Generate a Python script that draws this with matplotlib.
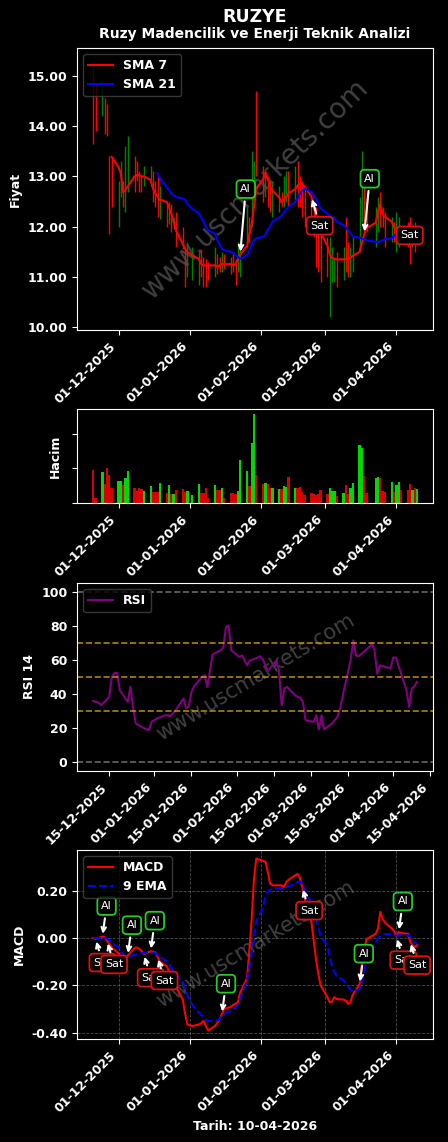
import numpy as np
import pandas as pd
import matplotlib
matplotlib.use('Agg')
import matplotlib.pyplot as plt
import matplotlib.dates as mdates
import matplotlib.ticker as ticker

plt.rcParams['font.family'] = 'DejaVu Sans'
plt.rcParams['font.size'] = 9
plt.rcParams['font.weight'] = 'bold'
plt.rcParams['axes.labelweight'] = 'bold'
plt.rcParams['text.color'] = 'white'
plt.rcParams['axes.labelcolor'] = 'white'
plt.rcParams['xtick.color'] = 'white'
plt.rcParams['ytick.color'] = 'white'
plt.rcParams['axes.edgecolor'] = 'white'
plt.rcParams['axes.facecolor'] = 'black'

# islem gunleri (1 Ocak ve 20 Mart tatil)
tarih = pd.bdate_range('2025-11-20', '2026-04-10', freq='C',
                       holidays=['2026-01-01', '2026-03-20'])

# 1 = yukselis (yesil), 0 = dusus (kirmizi)
yon = [0, 0, 1, 0, 0, 0, 0,
       1, 1, 0, 1, 1, 0, 0, 0, 0, 1, 1, 0, 0, 0, 1, 0, 1, 0, 1, 0, 0, 0, 1,
       1, 1, 0, 0, 0, 0, 1, 0, 0, 1, 0, 0, 0, 0, 1, 1, 1, 0, 1, 1, 0,
       0, 1, 0, 0, 1, 1, 0, 1, 1, 0, 1, 0, 0, 0, 0, 0, 0, 0, 0, 0,
       0, 1, 1, 1, 0, 1, 0, 0, 1, 1, 1, 1, 0, 0, 1, 1, 0, 0, 0, 1, 0,
       1, 1, 0, 0, 0, 1, 0, 1]

yuksek = [15.30, 14.85, 14.90, 14.55, 14.45, 13.40, 13.35,
          12.90, 13.30, 12.90, 13.60, 13.80, 13.40, 13.30, 13.10, 13.00, 13.20, 13.20, 13.10,
          12.90, 13.00, 12.80, 12.45, 12.50, 12.45, 12.20, 12.30, 12.00, 11.55, 11.70,
          11.60, 11.50, 11.55, 11.40, 11.35, 11.30, 11.60, 11.45, 11.40, 11.50, 11.45,
          11.40, 11.50, 11.35, 11.70, 11.60, 12.40, 12.20, 13.50, 13.30, 14.70,
          13.20, 13.10, 13.00, 12.90, 12.90, 12.80, 12.70, 13.00, 13.10, 13.10,
          13.20, 13.30, 13.00, 12.90, 12.80, 12.60, 12.50, 12.40, 12.00, 11.90,
          11.80, 11.80, 11.60, 11.40, 11.50, 11.60, 12.20, 11.70, 11.60, 11.80,
          12.60, 13.50, 12.90, 12.60, 12.40, 12.60, 12.70, 12.40, 12.30, 12.20, 12.10,
          12.30, 12.20, 12.00, 12.10, 12.20, 12.00, 12.10, 12.00]

dusuk = [13.65, 13.90, 14.20, 13.85, 13.80, 11.85, 12.40,
         12.00, 12.60, 12.40, 12.30, 12.70, 12.70, 12.90, 12.70, 12.70, 12.80, 12.80, 12.50,
         12.40, 12.20, 12.15, 12.00, 12.05, 11.90, 11.95, 11.60, 11.55, 10.80, 11.00,
         10.95, 10.85, 11.00, 10.80, 10.80, 10.95, 11.00, 11.05, 11.10, 11.10, 11.15,
         11.05, 11.10, 10.85, 11.10, 11.00, 11.60, 11.70, 12.00, 12.40, 13.00,
         12.50, 12.60, 12.40, 12.30, 12.20, 12.30, 12.40, 12.40, 12.50, 12.40,
         12.50, 12.40, 12.40, 12.20, 12.00, 11.90, 11.80, 11.20, 11.10, 10.90,
         11.00, 10.20, 10.90, 10.90, 10.80, 10.95, 11.10, 11.00, 11.00, 11.10,
         11.50, 12.10, 11.90, 11.90, 11.60, 11.90, 12.00, 12.00, 11.60, 11.70, 11.70,
         11.50, 11.60, 11.70, 11.60, 11.25, 11.60, 11.50, 11.70]

nan = np.nan
sma7 = [nan] * 6 + [13.39,
        13.19, 13.06, 12.69, 12.73, 12.80, 13.00, 13.03, 13.03, 13.00, 13.00, 12.93, 12.76,
        12.66, 12.60, 12.54, 12.49, 12.39, 12.26, 12.10, 11.93, 11.66, 11.56, 11.50,
        11.43, 11.36, 11.26, 11.23, 11.23, 11.23, 11.23, 11.20, 11.23, 11.26, 11.25,
        11.26, 11.23, 11.26, 11.35, 11.45, 11.62, 11.85, 12.05, 12.40, 12.75,
        12.95, 13.08, 12.95, 12.82, 12.72, 12.58, 12.48, 12.52, 12.60, 12.66,
        12.75, 12.82, 12.86, 12.85, 12.80, 12.60, 12.40, 12.22, 12.05, 11.88,
        11.62, 11.45, 11.38, 11.36, 11.35, 11.35, 11.35, 11.36, 11.38, 11.42,
        11.50, 11.68, 11.85, 11.97, 12.08, 12.30, 12.45, 12.25, 12.20, 12.10, 12.00,
        11.90, 11.80, 11.76, 11.74, 11.72, 11.70, 11.72, 11.74]

sma21 = [nan] * 20 + [13.06, 12.96, 12.79, 12.72, 12.66, 12.62, 12.59, 12.56, 12.53, 12.45,
        12.36, 12.26, 12.18, 12.10, 12.00, 11.93, 11.86, 11.73, 11.65, 11.56, 11.53,
        11.50, 11.47, 11.43, 11.40, 11.36, 11.43, 11.53, 11.63, 11.73, 11.77,
        11.80, 11.85, 11.93, 12.00, 12.10, 12.18, 12.22, 12.28, 12.34, 12.39,
        12.49, 12.57, 12.66, 12.72, 12.76, 12.69, 12.62, 12.56, 12.45, 12.36,
        12.26, 12.22, 12.19, 12.16, 12.10, 12.03, 11.98, 11.93, 11.87, 11.80,
        11.78, 11.76, 11.75, 11.73, 11.70, 11.69, 11.71, 11.73, 11.75, 11.77, 11.82,
        11.85, 11.86, 11.87, 11.88, 11.88, 11.89, 11.90, 11.90]

hacim = [0.94, 0.15, 0.90, 0.55, 1.00, 0.82, 0.44,
         0.63, 0.63, 0.52, 0.73, 0.92, 0.44, 0.35, 0.44, 0.40, 0.35, 0.50, 0.31,
         0.31, 0.31, 0.58, 0.29, 0.52, 0.25, 0.25, 0.38, 0.40, 0.31, 0.35,
         0.22, 0.54, 0.28, 0.28, 0.42, 0.15, 0.52, 0.37, 0.37, 0.42, 0.15,
         0.28, 0.28, 0.25, 0.35, 1.23, 0.92, 0.48, 1.73, 2.58, 0.80,
         0.54, 0.59, 0.54, 0.42, 0.42, 0.40, 0.40, 0.48, 0.46, 0.75,
         0.42, 0.42, 0.47, 0.31, 0.24, 0.28, 0.26, 0.22, 0.26, 0.37,
         0.27, 0.42, 0.35, 0.35, 0.20, 0.29, 0.52, 0.25, 0.42, 0.58,
         1.67, 1.58, 0.78, 0.29, 0.71, 0.75, 0.71, 0.35, 0.31, 0.61, 0.31,
         0.52, 0.61, 0.38, 0.38, 0.54, 0.39, 0.42, 0.40]

# RSI 14, 9 Aralik'tan itibaren
rsi = [36.0, 35.4, 35.0, 33.5, 38.3, 50.0, 52.3, 52.3, 42.2, 35.4, 44.2, 32.5,
       22.8, 21.8, 19.3, 18.9, 23.7,
       25.7, 27.6, 27.6, 27.0, 28.6, 30.5, 37.4, 31.5, 32.9, 41.2, 44.6,
       50.0, 51.0, 44.2, 53.9, 63.2, 65.6, 67.5, 79.2, 80.2, 65.6,
       61.7, 62.6, 59.7, 56.8, 59.7, 61.3, 62.1, 60.1, 55.8, 53.9,
       59.7, 53.5, 33.5, 43.2, 44.2, 39.3, 38.3, 37.9, 35.4, 24.7,
       23.7, 27.6, 19.3, 27.6, 19.3, 22.8, 24.7, 26.7, 31.5, 39.0,
       60.0, 71.4, 62.6, 62.1, 67.5, 69.5, 65.6, 51.9, 56.8, 55.4, 54.9,
       61.3, 61.3, 56.8, 42.2, 32.5, 43.2, 44.6, 47.1]

macd = [0.000, -0.004, 0.006, 0.004, -0.012, -0.025, -0.040,
        -0.065, -0.080, -0.088, -0.088, -0.075, -0.042, -0.040, -0.046, -0.055, -0.068,
        -0.056, -0.058, -0.062, -0.080, -0.100, -0.120, -0.140, -0.165, -0.180, -0.205,
        -0.260, -0.320, -0.365,
        -0.372, -0.365, -0.360, -0.350, -0.370, -0.390, -0.372, -0.358, -0.345, -0.322,
        -0.300, -0.290, -0.282, -0.278, -0.270, -0.230, -0.170, -0.050, 0.080, 0.250, 0.335,
        0.325, 0.322, 0.280, 0.230, 0.222, 0.222, 0.222, 0.215, 0.235, 0.245,
        0.265, 0.270, 0.255, 0.215, 0.170, 0.070, -0.010, -0.090, -0.150, -0.200,
        -0.250, -0.272, -0.268, -0.250, -0.258, -0.260, -0.265, -0.278, -0.270, -0.240,
        -0.195, -0.110, -0.050, -0.005, 0.018, 0.040, 0.110, 0.080, 0.065, 0.040, 0.028,
        0.006, 0.025, 0.020, 0.018, -0.015, -0.030, -0.040, -0.028]

sinyal = [0.000, -0.001, 0.000, 0.001, -0.003, -0.010, -0.020,
          -0.040, -0.055, -0.068, -0.078, -0.079, -0.072, -0.068, -0.066, -0.064, -0.064,
          -0.062, -0.062, -0.065, -0.070, -0.080, -0.098, -0.112, -0.128, -0.140, -0.155,
          -0.185, -0.215, -0.245,
          -0.280, -0.315, -0.325, -0.335, -0.345, -0.350, -0.350, -0.350, -0.342, -0.330,
          -0.320, -0.308, -0.300, -0.294, -0.280, -0.255, -0.180, -0.120, -0.060, 0.000, 0.070,
          0.130, 0.175, 0.195, 0.203, 0.207, 0.209, 0.210, 0.211, 0.213, 0.217,
          0.228, 0.236, 0.238, 0.232, 0.200, 0.150, 0.120, 0.085, 0.045, 0.010,
          -0.035, -0.080, -0.120, -0.145, -0.160, -0.180, -0.193, -0.205, -0.218, -0.228,
          -0.216, -0.185, -0.140, -0.085, -0.020, 0.000, 0.008, 0.012, 0.016, 0.016, 0.012,
          0.009, 0.012, 0.014, 0.012, 0.005, -0.005, -0.018, -0.026]

fiyat_al_sat = [('2026-01-23', 'Al'), ('2026-02-23', 'Sat'),
                ('2026-03-18', 'Al'), ('2026-04-02', 'Sat')]
macd_al_sat = [('2025-11-21', 'Sat'), ('2025-11-24', 'Al'), ('2025-11-26', 'Sat'),
               ('2025-12-05', 'Al'), ('2025-12-12', 'Sat'), ('2025-12-15', 'Al'),
               ('2025-12-18', 'Sat'), ('2026-01-15', 'Al'), ('2026-02-19', 'Sat'),
               ('2026-03-16', 'Al'), ('2026-04-01', 'Sat'), ('2026-04-02', 'Al'),
               ('2026-04-07', 'Sat')]

sma7_s = pd.Series(sma7, index=tarih)
macd_s = pd.Series(macd, index=tarih)

fig = plt.figure(figsize=(4.48, 11.42), dpi=100, facecolor='black')
ax1 = fig.add_axes([0.172, 0.711, 0.795, 0.247])
ax2 = fig.add_axes([0.172, 0.5595, 0.795, 0.0823])
ax3 = fig.add_axes([0.172, 0.3249, 0.795, 0.1646])
ax4 = fig.add_axes([0.172, 0.0902, 0.795, 0.1655])

tarih_fmt = mdates.DateFormatter('%d-%m-%Y')


def isaret(ax, t, y, metin, dx, dy):
    kenar = '#22cc22' if metin == 'Al' else '#dd1111'
    ax.annotate(metin, xy=(t, y), xytext=(dx, dy), textcoords='offset points',
                ha='center', va='center', fontsize=8, fontweight='normal',
                color='white',
                bbox=dict(boxstyle='round,pad=0.35', fc='black', ec=kenar, lw=1.3),
                arrowprops=dict(arrowstyle='->', color='white', lw=1.5))


def filigran(ax, aci, boyut):
    ax.text(0.5, 0.5, 'www.uscmarkets.com', transform=ax.transAxes, rotation=aci,
            fontsize=boyut, fontweight='normal', color='gray', alpha=0.5,
            ha='center', va='center', zorder=0)


# fiyat
renk = ['green' if y else 'red' for y in yon]
ax1.vlines(tarih, dusuk, yuksek, colors=renk, lw=1)
ax1.plot(tarih, sma7, color='red', lw=1.5, label='SMA 7')
ax1.plot(tarih, sma21, color='blue', lw=1.5, label='SMA 21')
ax1.yaxis.set_major_formatter(ticker.FormatStrFormatter('%.2f'))
ax1.set_ylabel('Fiyat')
ax1.legend(loc='upper left', facecolor='black', edgecolor='#444444', labelcolor='white')
filigran(ax1, 44, 20)
ofs = {'Al': [(4, 47), (4, 40)], 'Sat': [(6, -21), (8, 1)]}
sayac = {'Al': 0, 'Sat': 0}
for t, m in fiyat_al_sat:
    dx, dy = ofs[m][sayac[m]]
    sayac[m] += 1
    isaret(ax1, pd.Timestamp(t), sma7_s[t], m, dx, dy)

# hacim
hrenk = ['lime' if y else 'red' for y in yon]
ax2.bar(tarih, hacim, width=1.0, color=hrenk, alpha=0.85)
ax2.set_xlim(ax1.get_xlim())
ax2.set_yticks([0, 1, 2])
ax2.set_yticklabels([])
ax2.set_ylabel('Hacim')

# RSI
ax3.plot(tarih[13:], rsi, color='purple', lw=1.5, label='RSI')
for s in (0, 100):
    ax3.axhline(s, color='gray', ls='--', lw=1.2, alpha=0.8)
for s in (30, 50, 70):
    ax3.axhline(s, color='goldenrod', ls='--', lw=1.2, alpha=0.8)
ax3.set_ylim(-5, 105)
ax3.set_ylabel('RSI 14')
ax3.legend(loc='upper left', facecolor='black', edgecolor='#444444', labelcolor='white')
ax3.xaxis.set_major_locator(mdates.DayLocator(bymonthday=[1, 15]))
ax3.xaxis.set_major_formatter(tarih_fmt)
filigran(ax3, 31, 15)

# MACD
ax4.plot(tarih, macd, color='red', lw=1.5, label='MACD')
ax4.plot(tarih, sinyal, color='blue', ls='--', lw=1.5, label='9 EMA')
ax4.set_xlim(ax1.get_xlim())
ax4.yaxis.set_major_locator(ticker.MultipleLocator(0.2))
ax4.yaxis.set_major_formatter(ticker.FormatStrFormatter('%.2f'))
ax4.grid(True, color='gray', ls='--', lw=0.6, alpha=0.6)
ax4.set_ylabel('MACD')
ax4.set_xlabel('Tarih: 10-04-2026')
ax4.legend(loc='upper left', facecolor='black', edgecolor='#444444', labelcolor='white')
filigran(ax4, 31, 15)
for t, m in macd_al_sat:
    if m == 'Al':
        isaret(ax4, pd.Timestamp(t), macd_s[t], m, 3, 22)
    else:
        isaret(ax4, pd.Timestamp(t), macd_s[t], m, 5, -17)

for ax in (ax1, ax2, ax4):
    ax.xaxis.set_major_locator(mdates.MonthLocator())
    ax.xaxis.set_major_formatter(tarih_fmt)
for ax in (ax1, ax2, ax3, ax4):
    plt.setp(ax.get_xticklabels(), rotation=45, ha='right')
    for sp in ax.spines.values():
        sp.set_color('white')

fig.text(0.569, 0.985, 'RUZYE', ha='center', va='center', fontsize=12.5, fontweight='bold')
fig.text(0.569, 0.970, 'Ruzy Madencilik ve Enerji Teknik Analizi', ha='center',
         va='center', fontsize=10, fontweight='bold')

fig.savefig('out.png', dpi=100, facecolor='black')
